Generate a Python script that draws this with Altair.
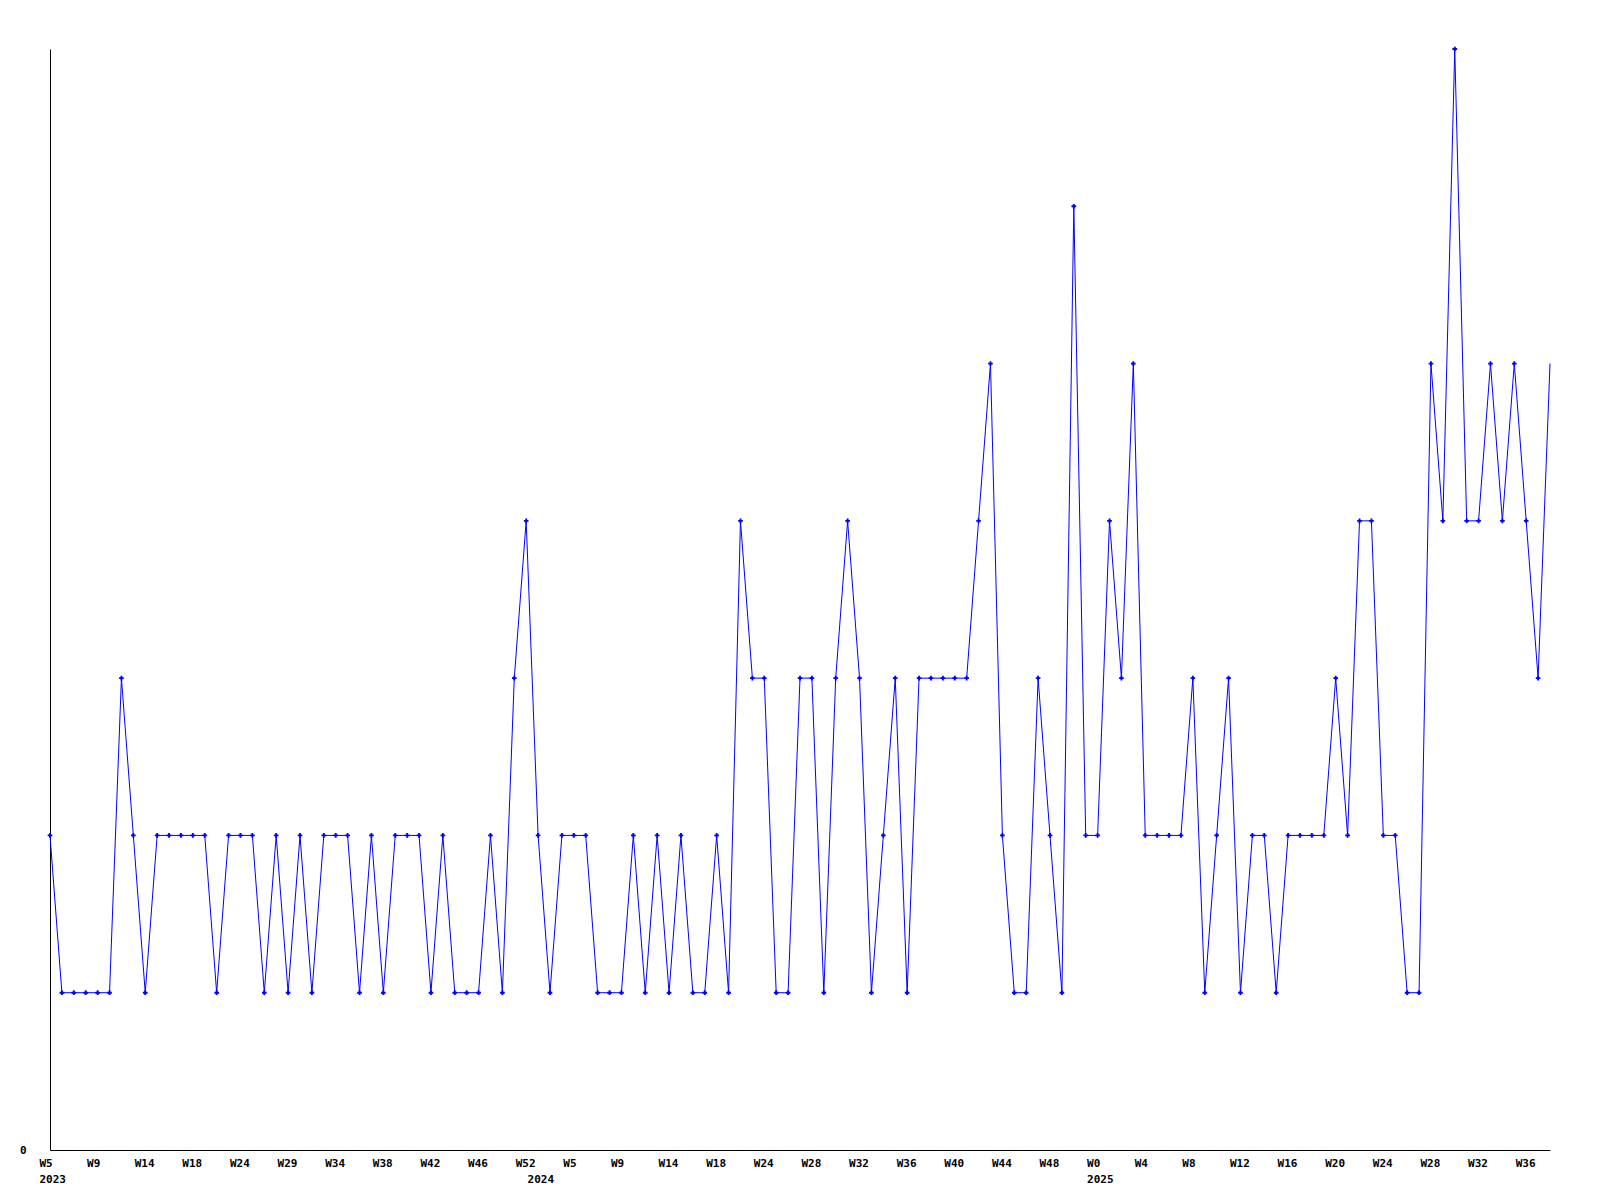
import altair as alt
import pandas as pd

values = [2, 1, 1, 1, 1, 1, 3, 2, 1, 2, 2, 2, 2, 2, 1, 2, 2, 2, 1, 2,
          1, 2, 1, 2, 2, 2, 1, 2, 1, 2, 2, 2, 1, 2, 1, 1, 1, 2, 1, 3,
          4, 2, 1, 2, 2, 2, 1, 1, 1, 2, 1, 2, 1, 2, 1, 1, 2, 1, 4, 3,
          3, 1, 1, 3, 3, 1, 3, 4, 3, 1, 2, 3, 1, 3, 3, 3, 3, 3, 4, 5,
          2, 1, 1, 3, 2, 1, 6, 2, 2, 4, 3, 5, 2, 2, 2, 2, 3, 1, 2, 3,
          1, 2, 2, 1, 2, 2, 2, 2, 3, 2, 4, 4, 2, 2, 1, 1, 5, 4, 7, 4,
          4, 5, 4, 5, 4, 3, 5]

week_labels = ["W5", "W9", "W14", "W18", "W24", "W29", "W34", "W38", "W42", "W46",
               "W52", "W5", "W9", "W14", "W18", "W24", "W28", "W32", "W36", "W40",
               "W44", "W48", "W0", "W4", "W8", "W12", "W16", "W20", "W24", "W28",
               "W32", "W36"]
week_label_idx = list(range(0, 4 * len(week_labels), 4))

year_labels = ["2023", "2024", "2025"]
year_label_idx = [0, 41, 88]

n = len(values)
df = pd.DataFrame({"i": list(range(n)), "v": values})
wk = pd.DataFrame({"i": week_label_idx, "t": week_labels})
yr = pd.DataFrame({"i": year_label_idx, "t": year_labels})

FONT = "DejaVu Sans Mono"
BLUE = "#0000ff"

xscale = alt.Scale(domain=[0, n - 1], nice=False, zero=False)
yscale = alt.Scale(domain=[0, 7], nice=False)

x_enc = alt.X("i:Q", scale=xscale,
              axis=alt.Axis(labels=False, ticks=False, grid=False, title=None,
                            domainColor="black", domainWidth=1))
y_enc = alt.Y("v:Q", scale=yscale,
              axis=alt.Axis(values=[0], format="d", ticks=False, grid=False, title=None,
                            domainColor="black", domainWidth=1,
                            labelFont=FONT, labelFontSize=11, labelFontWeight="bold",
                            labelColor="black", labelPadding=24))

line = alt.Chart(df).mark_line(color=BLUE, strokeWidth=1).encode(x=x_enc, y=y_enc)

pts = alt.Chart(df).transform_filter(alt.datum.i < n - 1).mark_point(
    shape="cross", filled=True, color=BLUE, size=22, opacity=1
).encode(x=alt.X("i:Q", scale=xscale), y=alt.Y("v:Q", scale=yscale))

wk_text = alt.Chart(wk).mark_text(
    align="left", baseline="middle", dx=-10.5, font=FONT, fontSize=11,
    fontWeight="bold", color="black"
).encode(x=alt.X("i:Q", scale=xscale), y=alt.value(1115), text="t:N")

yr_text = alt.Chart(yr).mark_text(
    align="left", baseline="middle", dx=-10.5, font=FONT, fontSize=11,
    fontWeight="bold", color="black"
).encode(x=alt.X("i:Q", scale=xscale), y=alt.value(1131), text="t:N")

chart = alt.layer(line, pts, wk_text, yr_text).properties(
    width=1500, height=1101,
    padding={"left": 42, "top": 41, "right": 42, "bottom": 41},
    autosize=alt.AutoSizeParams(type="none"),
    background="white",
).configure_view(stroke=None)

chart.save("out.html", embed_options={"renderer": "svg", "actions": False})
